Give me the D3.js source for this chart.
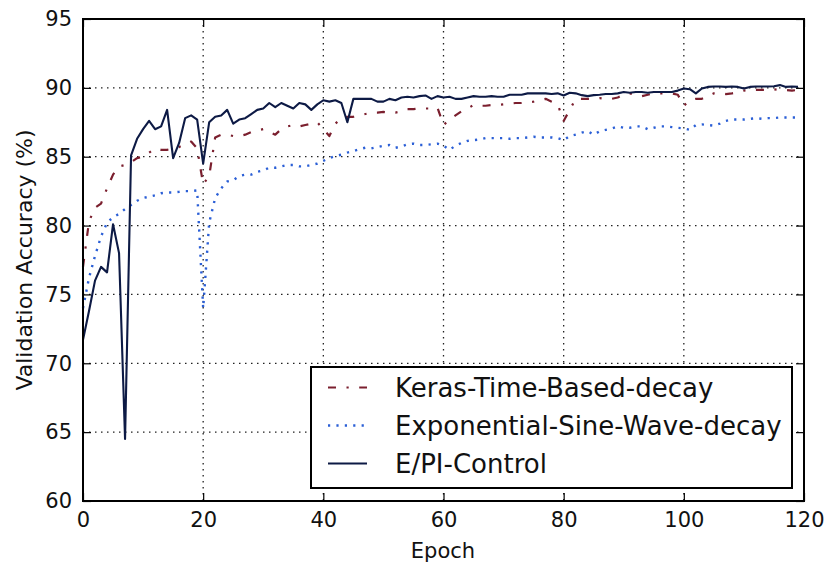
<!DOCTYPE html>
<html>
<head>
<meta charset="utf-8">
<script src="https://cdn.jsdelivr.net/npm/d3@7"></script>
<style>
  body { margin: 0; background: #fff; }
  svg { display: block; font-family: "DejaVu Sans", sans-serif; }
</style>
</head>
<body>
<div id="chart"></div>
<script>
// validation accuracy per epoch (0..119)
const keras = [
  77.0, 80.3, 81.3, 81.6, 82.7, 83.7, 84.3, 84.4, 84.6, 84.9,
  85.0, 85.3, 85.6, 85.5, 85.5, 85.6, 85.7, 85.9, 86.1, 85.6,
  83.0, 83.6, 86.4, 86.6, 86.6, 86.5, 86.5, 86.6, 86.8, 86.9,
  87.0, 86.8, 86.6, 87.0, 87.2, 87.3, 87.2, 87.3, 87.4, 87.5,
  87.0, 86.5, 87.4, 87.8, 87.9, 87.9, 88.0, 88.1, 88.2, 88.2,
  88.25, 88.2, 88.2, 88.3, 88.45, 88.45, 88.5, 88.5, 88.5, 88.55,
  87.3, 87.7, 88.0, 88.3, 88.5, 88.75, 88.7, 88.7, 88.75, 88.75,
  88.8, 88.85, 88.9, 88.9, 88.95, 89.0, 89.1, 89.2, 89.0, 88.8,
  87.6, 88.4, 89.2, 89.2, 89.2, 89.2, 89.25, 89.2, 89.2, 89.3,
  89.5, 89.6, 89.5, 89.4, 89.5, 89.6, 89.6, 89.6, 89.6, 89.5,
  88.7, 89.1, 89.2, 89.2, 89.4, 89.6, 89.6, 89.55, 89.6, 89.7,
  89.8, 89.85, 89.85, 89.85, 89.85, 89.9, 89.85, 89.85, 89.8, 89.85
];
const expSine = [
  74.0, 76.2, 77.8, 79.2, 80.2, 80.6, 80.85, 81.2, 81.5, 81.8,
  82.0, 82.1, 82.2, 82.35, 82.4, 82.4, 82.45, 82.5, 82.5, 82.55,
  74.0, 80.2, 82.0, 82.7, 83.2, 83.3, 83.6, 83.7, 83.7, 83.9,
  84.0, 84.2, 84.2, 84.3, 84.4, 84.4, 84.3, 84.3, 84.4, 84.5,
  84.7, 84.9, 85.05, 85.15, 85.3, 85.4, 85.55, 85.65, 85.6, 85.7,
  85.8, 85.85, 85.65, 85.75, 85.9, 85.95, 85.85, 85.85, 85.9, 85.95,
  85.8, 85.5, 85.8, 86.0, 86.15, 86.2, 86.25, 86.35, 86.35, 86.35,
  86.35, 86.3, 86.35, 86.35, 86.4, 86.45, 86.4, 86.4, 86.4, 86.35,
  86.2, 86.5, 86.6, 86.75, 86.85, 86.6, 86.85, 86.95, 87.05, 87.2,
  87.1, 87.1, 87.2, 87.2, 87.0, 87.1, 87.2, 87.2, 87.15, 87.1,
  87.05, 86.95, 87.3, 87.35, 87.3, 87.25, 87.4, 87.6, 87.7, 87.7,
  87.7, 87.75, 87.8, 87.75, 87.8, 87.8, 87.85, 87.85, 87.85, 87.85
];
const epiControl = [
  71.7, 73.8, 76.0, 77.0, 76.6, 80.1, 78.0, 64.5, 85.1, 86.3,
  87.0, 87.6, 87.0, 87.2, 88.4, 84.9, 86.0, 87.8, 88.0, 87.7,
  84.5, 87.5, 87.9, 88.0, 88.4, 87.4, 87.7, 87.8, 88.1, 88.4,
  88.5, 88.9, 88.6, 88.9, 88.7, 88.5, 88.9, 88.8, 88.4, 88.8,
  89.1, 89.0, 89.1, 88.9, 87.5, 89.2, 89.2, 89.2, 89.2, 89.0,
  89.0, 89.2, 89.1, 89.3, 89.35, 89.3, 89.4, 89.45, 89.2, 89.4,
  89.3, 89.35, 89.2, 89.2, 89.3, 89.4, 89.35, 89.35, 89.4, 89.35,
  89.35, 89.5, 89.5, 89.5, 89.6, 89.6, 89.6, 89.6, 89.55, 89.6,
  89.45, 89.65, 89.6, 89.47, 89.4, 89.47, 89.5, 89.55, 89.55, 89.6,
  89.7, 89.65, 89.7, 89.7, 89.65, 89.7, 89.7, 89.7, 89.7, 89.8,
  89.95, 89.9, 89.6, 89.95, 90.07, 90.1, 90.1, 90.07, 90.1, 90.07,
  89.95, 90.07, 90.1, 90.1, 90.1, 90.12, 90.2, 90.07, 90.1, 90.07
];
const seriesNames = ["Keras-Time-Based-decay", "Exponential-Sine-Wave-decay", "E/PI-Control"];
const xTicks = [0, 20, 40, 60, 80, 100, 120];
const yTicks = [60, 65, 70, 75, 80, 85, 90, 95];

const W = 829, H = 562;
const margin = {top: 19, right: 25, bottom: 61, left: 83},
      width = W - margin.left - margin.right,
      height = H - margin.top - margin.bottom;

const svg = d3.select("#chart")
    .append("svg")
    .attr("width", W)
    .attr("height", H);

const g = svg.append("g")
    .attr("transform", `translate(${margin.left},${margin.top})`);

const x = d3.scaleLinear().domain([0, 120]).range([0, width]);
const y = d3.scaleLinear().domain([60, 95]).range([height, 0]);

// grid
g.append("g")
    .selectAll("line")
    .data(xTicks.slice(1, -1))
    .join("line")
    .attr("x1", d => x(d)).attr("x2", d => x(d))
    .attr("y1", 0).attr("y2", height)
    .attr("stroke", "#222").attr("stroke-width", 1.3)
    .attr("stroke-dasharray", "1.5,4.5");
g.append("g")
    .selectAll("line")
    .data(yTicks.slice(1, -1))
    .join("line")
    .attr("y1", d => y(d)).attr("y2", d => y(d))
    .attr("x1", 0).attr("x2", width)
    .attr("stroke", "#222").attr("stroke-width", 1.3)
    .attr("stroke-dasharray", "1.5,4.5");

// series
const styles = [
    {data: keras, color: "#7b1f2e", dash: "8,10.5,2.2,10.5", w: 2.2},
    {data: expSine, color: "#2b5fd6", dash: "2.2,6.2", w: 2.4},
    {data: epiControl, color: "#0d1a45", dash: null, w: 2.1}
];

const line = d3.line()
    .x((d, i) => x(i))
    .y(d => y(d));

styles.forEach(s => {
    g.append("path")
        .datum(s.data)
        .attr("fill", "none")
        .attr("stroke", s.color)
        .attr("stroke-width", s.w)
        .attr("stroke-dasharray", s.dash)
        .attr("stroke-linejoin", "round")
        .attr("d", line);
});

// axes, ticks inward on all sides
const tickLen = 8;
const xAxisB = g.append("g")
    .attr("transform", `translate(0,${height})`)
    .call(d3.axisBottom(x).tickValues(xTicks).tickSizeInner(-tickLen).tickSizeOuter(0).tickPadding(11));
const xAxisT = g.append("g")
    .call(d3.axisTop(x).tickValues(xTicks).tickSizeInner(-tickLen).tickSizeOuter(0).tickFormat(""));
const yAxisL = g.append("g")
    .call(d3.axisLeft(y).tickValues(yTicks).tickSizeInner(-tickLen).tickSizeOuter(0).tickPadding(11));
const yAxisR = g.append("g")
    .attr("transform", `translate(${width},0)`)
    .call(d3.axisRight(y).tickValues(yTicks).tickSizeInner(-tickLen).tickSizeOuter(0).tickFormat(""));

[xAxisB, xAxisT, yAxisL, yAxisR].forEach(a => {
    a.select(".domain").remove();
    a.selectAll("line").attr("stroke", "#000").attr("stroke-width", 1.2);
    a.selectAll("text")
        .attr("fill", "#111")
        .style("font-size", "21px")
        .style("font-family", "DejaVu Sans");
});

// frame
g.append("rect")
    .attr("width", width).attr("height", height)
    .attr("fill", "none").attr("stroke", "#000").attr("stroke-width", 2);

// axis labels
svg.append("text")
    .attr("x", 443)
    .attr("y", 558)
    .attr("text-anchor", "middle")
    .style("font-size", "21px")
    .attr("fill", "#111")
    .text("Epoch");

svg.append("text")
    .attr("transform", `translate(32,${margin.top + height / 2}) rotate(-90)`)
    .attr("text-anchor", "middle")
    .style("font-size", "22px")
    .attr("fill", "#111")
    .text("Validation Accuracy (%)");

// legend
const legend = svg.append("g")
    .attr("transform", "translate(311,367)");

legend.append("rect")
    .attr("width", 481).attr("height", 121)
    .attr("fill", "#fff").attr("stroke", "#000").attr("stroke-width", 2);

const item = legend.selectAll(".legend")
    .data(seriesNames)
    .join("g")
    .attr("class", "legend")
    .attr("transform", (d, i) => `translate(0,${20.5 + i * 38})`);

item.append("line")
    .attr("x1", 17).attr("x2", 56)
    .attr("stroke", (d, i) => styles[i].color)
    .attr("stroke-width", (d, i) => styles[i].w)
    .attr("stroke-dasharray", (d, i) => styles[i].dash);

item.append("text")
    .attr("x", 84)
    .attr("y", 9.5)
    .style("font-size", "26px")
    .attr("fill", "#111")
    .text(d => d);
</script>
</body>
</html>
